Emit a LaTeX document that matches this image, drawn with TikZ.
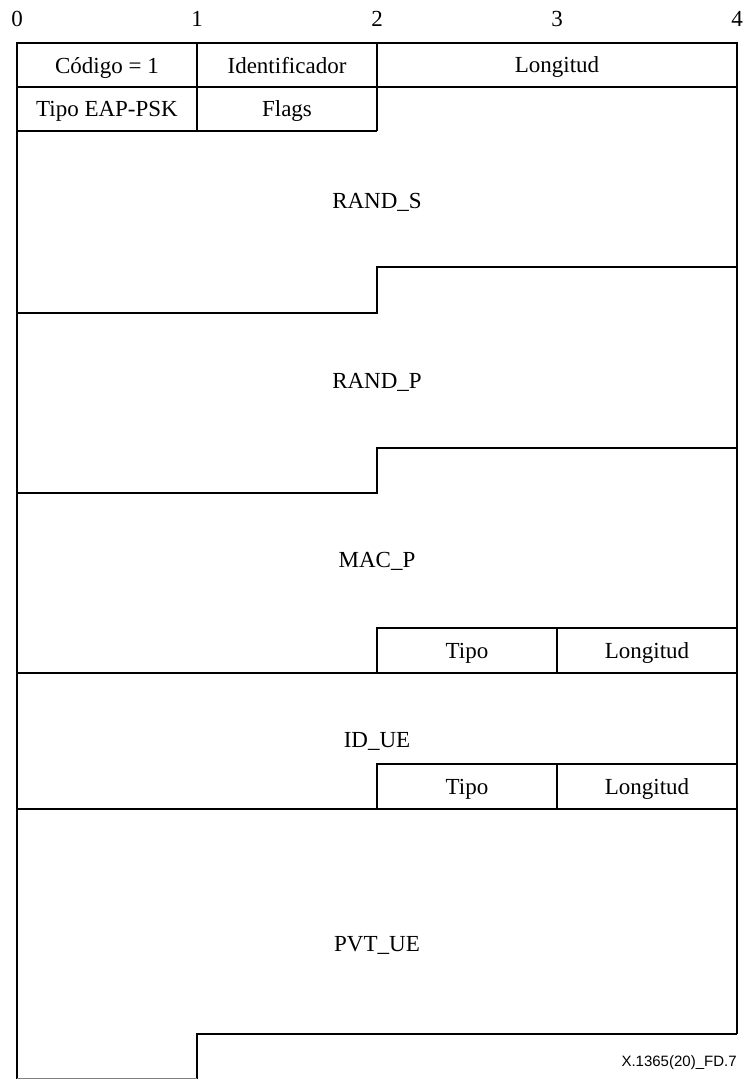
\documentclass[tikz,border=0pt]{standalone}
\usepackage{fontspec}
\setmainfont{Liberation Serif}
\newfontfamily\labelsans{Liberation Sans}
\begin{document}
\begin{tikzpicture}[x=0.5pt,y=-0.5pt,
  frame/.style={line width=0.7pt,line join=miter},
  lbl/.style={font=\fontsize{11.5pt}{13pt}\selectfont,inner sep=0pt,text height=0.68em,text depth=0.2em},
  refl/.style={font=\labelsans\fontsize{7.5pt}{9pt}\selectfont,inner sep=0pt,anchor=east}]
\useasboundingbox (0,0) rectangle (748,1079);
% scale numbers
\foreach \i/\x in {0/17,1/197,2/377,3/557,4/737}
  \node[lbl] (n\i) at (\x,22) {\i};
% outer frame
\draw[frame] (737,1034) -- (737,43) -- (17,43) -- (17,1079);
\draw[frame] (737,1034) -- (197,1034) -- (197,1079);
\draw[line width=0.4pt,gray] (17,1078.5) -- (197,1078.5);
% header
\draw[frame] (17,87) -- (737,87);
\draw[frame] (17,131) -- (377,131);
\draw[frame] (197,43) -- (197,131);
\draw[frame] (377,43) -- (377,131);
% steps
\draw[frame] (17,313) -- (377,313) -- (377,267) -- (737,267);
\draw[frame] (17,493) -- (377,493) -- (377,448) -- (737,448);
% Tipo/Longitud rows
\draw[frame] (377,673) -- (377,628) -- (737,628);
\draw[frame] (557,628) -- (557,673);
\draw[frame] (17,673) -- (737,673);
\draw[frame] (377,809) -- (377,764) -- (737,764);
\draw[frame] (557,764) -- (557,809);
\draw[frame] (17,809) -- (737,809);
% labels
\node[lbl] (cod) at (107,69) {Código = 1};
\node[lbl] (ide) at (287,69) {Identificador};
\node[lbl] (lon) at (557,68) {Longitud};
\node[lbl] (tip) at (107,112) {Tipo EAP-PSK};
\node[lbl] (fla) at (287,112) {Flags};
\node[lbl] (rs) at (377,204) {RAND\_S};
\node[lbl] (rp) at (377,384) {RAND\_P};
\node[lbl] (mp) at (377,563) {MAC\_P};
\node[lbl] (t1) at (467,654) {Tipo};
\node[lbl] (l1) at (647,654) {Longitud};
\node[lbl] (id) at (377,743) {ID\_UE};
\node[lbl] (t2) at (467,790) {Tipo};
\node[lbl] (l2) at (647,790) {Longitud};
\node[lbl] (pv) at (377,947) {PVT\_UE};
\node[refl] (ref) at (737,1063) {X.1365(20)\_FD.7};
\end{tikzpicture}
\end{document}
